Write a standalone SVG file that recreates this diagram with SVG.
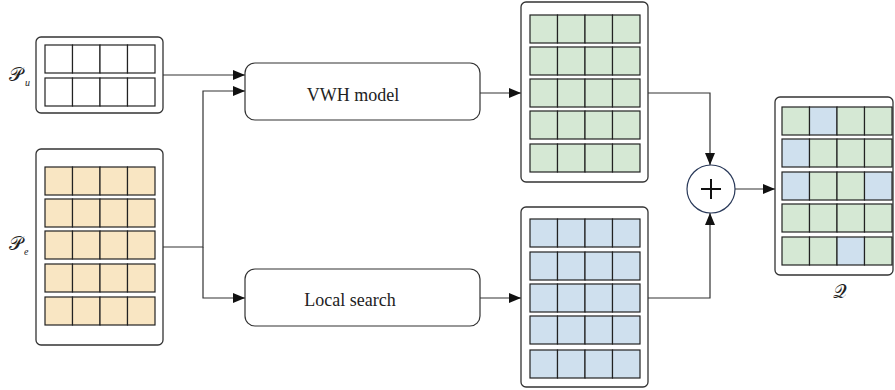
<svg xmlns="http://www.w3.org/2000/svg" width="895" height="390" viewBox="0 0 895 390">
<style>
.outer{fill:#fff;stroke:#333;stroke-width:1.3}
.c{stroke:#222;stroke-width:1.2}
.y{fill:#f9e6c3}
.g{fill:#d5e8d4}
.b{fill:#cfe0ee}
.w{fill:#fff}
.box{fill:#fff;stroke:#333;stroke-width:1.2}
.lbl{font-family:"Liberation Serif",serif;font-size:18px;fill:#222}
.math{font-family:"DejaVu Serif","Liberation Serif",serif;fill:#222}
.sub{font-family:"Liberation Serif",serif;font-style:italic;fill:#222}
.ln{fill:none;stroke:#333;stroke-width:1.2}
</style>
<defs>
<marker id="ah" markerWidth="12" markerHeight="10" refX="12" refY="5" orient="auto" markerUnits="userSpaceOnUse">
<path d="M0,0 L12,5 L0,10 Z" fill="#111"/>
</marker>
<g id="rowW"><rect class="c w" x="0" y="0" width="27.5" height="28"/><rect class="c w" x="27.5" y="0" width="27.5" height="28"/><rect class="c w" x="55" y="0" width="27.5" height="28"/><rect class="c w" x="82.5" y="0" width="27.5" height="28"/></g>
<g id="rowY"><rect class="c y" x="0" y="0" width="27.5" height="28"/><rect class="c y" x="27.5" y="0" width="27.5" height="28"/><rect class="c y" x="55" y="0" width="27.5" height="28"/><rect class="c y" x="82.5" y="0" width="27.5" height="28"/></g>
<g id="rowG"><rect class="c g" x="0" y="0" width="27.5" height="28"/><rect class="c g" x="27.5" y="0" width="27.5" height="28"/><rect class="c g" x="55" y="0" width="27.5" height="28"/><rect class="c g" x="82.5" y="0" width="27.5" height="28"/></g>
<g id="rowB"><rect class="c b" x="0" y="0" width="27.5" height="28"/><rect class="c b" x="27.5" y="0" width="27.5" height="28"/><rect class="c b" x="55" y="0" width="27.5" height="28"/><rect class="c b" x="82.5" y="0" width="27.5" height="28"/></g>
</defs>

<g id="connectors">
<path class="ln" d="M163,75 H245" marker-end="url(#ah)"/>
<path class="ln" d="M163,247 H203 V91 H245" marker-end="url(#ah)"/>
<path class="ln" d="M203,247 V298 H245" marker-end="url(#ah)"/>
<path class="ln" d="M480,93 H521" marker-end="url(#ah)"/>
<path class="ln" d="M480,298 H521" marker-end="url(#ah)"/>
<path class="ln" d="M648,93 H710 V165" marker-end="url(#ah)"/>
<path class="ln" d="M648,298 H710 V213" marker-end="url(#ah)"/>
<path class="ln" d="M735,189 H775" marker-end="url(#ah)"/>
</g>

<g id="Pu">
<rect class="outer" x="36" y="37" width="127" height="76" rx="5"/>
<use href="#rowW" x="45" y="45"/>
<use href="#rowW" x="45" y="78"/>
<text class="math" x="9" y="81" font-size="19">𝒫</text><text class="sub" x="25" y="86" font-size="10">u</text>
</g>

<g id="Pe">
<rect class="outer" x="36" y="149" width="127" height="196" rx="5"/>
<use href="#rowY" x="45" y="167"/>
<use href="#rowY" x="45" y="199"/>
<use href="#rowY" x="45" y="231"/>
<use href="#rowY" x="45" y="264"/>
<use href="#rowY" x="45" y="297"/>
<text class="math" x="9" y="250" font-size="19">𝒫</text><text class="sub" x="24" y="255" font-size="10">e</text>
</g>

<g id="vwh">
<rect class="box" x="245" y="63" width="235" height="57" rx="10"/>
<text class="lbl" x="353" y="101" text-anchor="middle">VWH model</text>
</g>

<g id="local">
<rect class="box" x="245" y="269" width="235" height="57" rx="10"/>
<text class="lbl" x="350" y="306" text-anchor="middle">Local search</text>
</g>

<g id="green">
<rect class="outer" x="521" y="2" width="127" height="180" rx="5"/>
<use href="#rowG" x="530" y="15"/>
<use href="#rowG" x="530" y="47"/>
<use href="#rowG" x="530" y="79"/>
<use href="#rowG" x="530" y="111"/>
<use href="#rowG" x="530" y="144"/>
</g>

<g id="blue">
<rect class="outer" x="521" y="207" width="127" height="180" rx="5"/>
<use href="#rowB" x="530" y="219"/>
<use href="#rowB" x="530" y="252"/>
<use href="#rowB" x="530" y="284"/>
<use href="#rowB" x="530" y="316"/>
<use href="#rowB" x="530" y="350"/>
</g>

<g id="plus">
<circle cx="711" cy="189" r="24" fill="#fff" stroke="#2a3a5a" stroke-width="1.2"/>
<path d="M701,189 H721 M711,179 V199" stroke="#111" stroke-width="2" fill="none"/>
</g>

<g id="Q">
<rect class="outer" x="775" y="97" width="118" height="178" rx="5"/>
<g transform="translate(782,107)"><rect class="c g" x="0" width="27.5" height="28"/><rect class="c b" x="27.5" width="27.5" height="28"/><rect class="c g" x="55" width="27.5" height="28"/><rect class="c g" x="82.5" width="27.5" height="28"/></g>
<g transform="translate(782,139)"><rect class="c b" x="0" width="27.5" height="28"/><rect class="c g" x="27.5" width="27.5" height="28"/><rect class="c g" x="55" width="27.5" height="28"/><rect class="c g" x="82.5" width="27.5" height="28"/></g>
<g transform="translate(782,172)"><rect class="c b" x="0" width="27.5" height="28"/><rect class="c g" x="27.5" width="27.5" height="28"/><rect class="c g" x="55" width="27.5" height="28"/><rect class="c b" x="82.5" width="27.5" height="28"/></g>
<g transform="translate(782,204)"><rect class="c g" x="0" width="27.5" height="28"/><rect class="c g" x="27.5" width="27.5" height="28"/><rect class="c g" x="55" width="27.5" height="28"/><rect class="c g" x="82.5" width="27.5" height="28"/></g>
<g transform="translate(782,237)"><rect class="c g" x="0" width="27.5" height="28"/><rect class="c g" x="27.5" width="27.5" height="28"/><rect class="c b" x="55" width="27.5" height="28"/><rect class="c g" x="82.5" width="27.5" height="28"/></g>
<text class="math" x="840" y="298" font-size="19" text-anchor="middle">𝒬</text>
</g>
</svg>
